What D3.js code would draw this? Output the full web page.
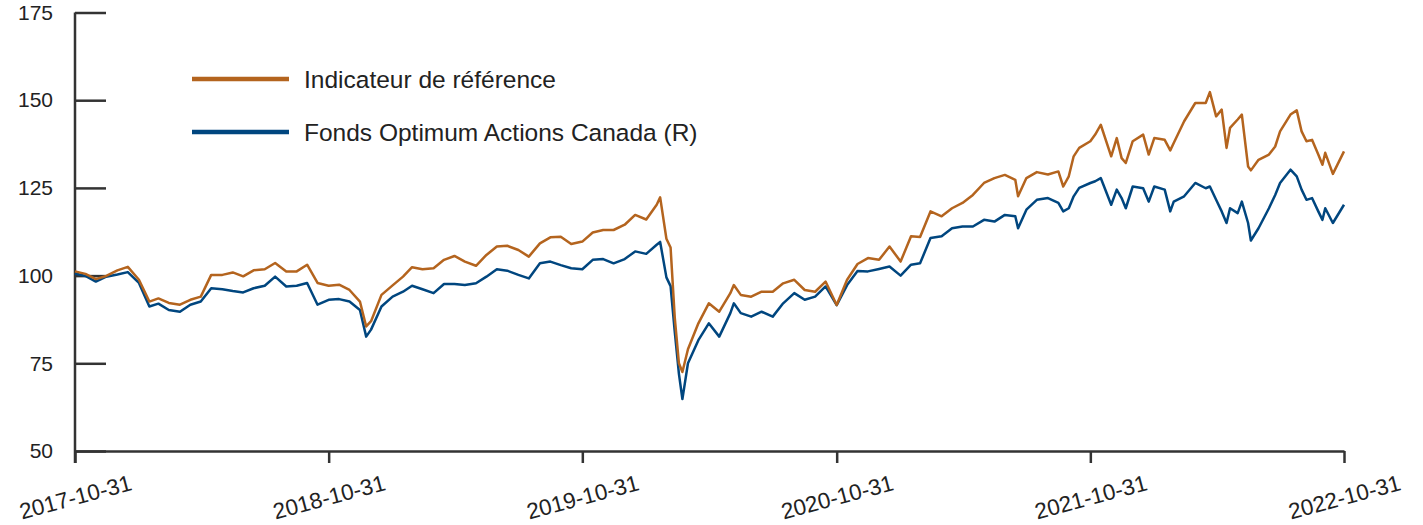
<!DOCTYPE html>
<html>
<head>
<meta charset="utf-8">
<script src="https://cdn.jsdelivr.net/npm/d3@7"></script>
<style>
  body { margin: 0; background: #fff; }
  svg { display: block; font-family: "Liberation Sans", Arial, sans-serif; }
  .axis path, .axis line { stroke: #333; stroke-width: 2.5; }
  .axis text { fill: #222; font-size: 21px; }
  .x-axis text { font-size: 22.5px; }
</style>
</head>
<body>
<div id="chart"></div>
<script>
'use strict';

// dates (semi-monthly, plus a few turning points)
var dates = [
  "2017-10-31","2017-11-15","2017-11-30","2017-12-15","2017-12-31",
  // 2018
  "2018-01-15","2018-01-31","2018-02-15","2018-02-28","2018-03-15","2018-03-31",
  "2018-04-15","2018-04-30","2018-05-15","2018-05-31","2018-06-15","2018-06-30",
  "2018-07-15","2018-07-31","2018-08-15","2018-08-31","2018-09-15","2018-09-30",
  "2018-10-15","2018-10-31","2018-11-15","2018-11-30","2018-12-15","2018-12-24","2018-12-31",
  // 2019
  "2019-01-15","2019-01-31","2019-02-15","2019-02-28","2019-03-15","2019-03-31",
  "2019-04-15","2019-04-30","2019-05-15","2019-05-31","2019-06-15","2019-06-30",
  "2019-07-15","2019-07-31","2019-08-15","2019-08-31","2019-09-15","2019-09-30",
  "2019-10-15","2019-10-31","2019-11-15","2019-11-30","2019-12-15","2019-12-31",
  // 2020
  "2020-01-15","2020-01-31","2020-02-15","2020-02-20","2020-02-29","2020-03-06",
  "2020-03-12","2020-03-18","2020-03-23","2020-03-31","2020-04-15","2020-04-30",
  "2020-05-15","2020-05-31","2020-06-05","2020-06-15","2020-06-30","2020-07-15","2020-07-31",
  "2020-08-15","2020-08-31","2020-09-15","2020-09-30","2020-10-15","2020-10-31",
  "2020-11-15","2020-11-30","2020-12-15","2020-12-31",
  // 2021
  "2021-01-15","2021-01-31","2021-02-15","2021-02-28","2021-03-15","2021-03-31",
  "2021-04-15","2021-04-30","2021-05-15","2021-05-31","2021-06-15","2021-06-30",
  "2021-07-15","2021-07-19","2021-07-31","2021-08-15","2021-08-31","2021-09-15",
  "2021-09-22","2021-09-30","2021-10-07","2021-10-15","2021-10-31","2021-11-07",
  "2021-11-15","2021-11-30","2021-12-08","2021-12-15","2021-12-21","2021-12-31",
  // 2022
  "2022-01-15","2022-01-23","2022-01-31","2022-02-15","2022-02-23","2022-02-28",
  "2022-03-15","2022-03-31","2022-04-15","2022-04-21","2022-04-30","2022-05-08",
  "2022-05-15","2022-05-20","2022-05-31","2022-06-06","2022-06-15","2022-06-19",
  "2022-06-30","2022-07-15","2022-07-24","2022-07-31","2022-08-15","2022-08-24",
  "2022-08-31","2022-09-07","2022-09-15","2022-09-24","2022-09-30","2022-10-04",
  "2022-10-15","2022-10-31"
];

// Indicateur de référence
var benchmark = [
  101.2,100.5,99.0,99.9,101.5,
  102.5,98.8,92.6,93.5,92.2,91.7,93.1,94.0,100.2,100.2,100.9,99.8,
  101.5,101.8,103.6,101.2,101.2,103.1,97.9,97.1,97.4,95.9,92.6,85.5,87.0,
  94.5,97.2,99.7,102.4,101.8,102.1,104.5,105.6,104.0,102.8,105.9,108.3,
  108.5,107.3,105.4,109.2,110.9,111.1,109.0,109.7,112.3,113.0,113.0,114.5,
  117.3,116.0,120.2,122.3,110.5,108.0,88.0,75.0,72.5,79.0,86.4,92.1,
  89.7,95.0,97.3,94.5,94.0,95.4,95.4,97.8,98.8,95.9,95.4,98.3,91.6,
  98.8,103.3,105.0,104.5,
  108.3,104.0,111.2,111.0,118.3,116.9,119.2,120.7,123.0,126.4,127.8,128.7,
  127.3,122.6,127.8,129.5,128.8,129.7,125.4,128.3,134.0,136.4,138.3,140.2,
  143.0,134.0,139.2,133.5,132.1,138.3,
  140.2,134.5,139.2,138.7,135.7,137.8,144.0,149.2,149.2,152.3,145.4,147.3,
  136.4,142.1,144.5,145.9,131.1,130.0,133.0,134.5,136.8,141.1,145.9,147.1,
  141.1,138.3,138.7,134.5,131.6,135.0,129.0,135.4
];

// Fonds Optimum Actions Canada (R)
var fund = [
  100.6,99.9,98.3,99.7,100.3,
  101.0,97.9,91.2,92.0,90.2,89.7,91.7,92.6,96.4,96.1,95.6,95.2,
  96.4,97.1,99.7,96.9,97.1,97.9,91.7,93.1,93.3,92.6,90.2,82.6,84.6,
  91.2,94.0,95.4,97.1,96.1,95.0,97.6,97.6,97.3,97.8,99.7,101.8,
  101.4,100.2,99.2,103.5,104.0,103.0,102.1,101.8,104.5,104.7,103.5,104.7,
  106.9,106.2,108.8,109.6,99.5,97.0,84.0,72.0,64.8,75.0,81.6,86.4,
  82.6,89.3,92.1,89.3,88.3,89.7,88.3,92.1,95.0,93.1,94.0,96.9,91.6,
  97.3,101.3,101.2,101.9,
  102.6,100.0,103.1,103.5,110.7,111.2,113.5,114.0,114.0,115.9,115.4,117.3,
  116.9,113.5,118.8,121.6,122.1,120.7,118.3,119.2,122.6,125.0,126.4,126.9,
  127.8,120.2,124.5,122.1,119.2,125.4,
  124.9,121.1,125.4,124.5,118.3,121.1,122.6,126.4,124.9,125.4,121.6,118.3,
  115.0,119.2,117.8,121.1,115.0,110.0,113.5,119.2,123.0,126.4,130.2,128.3,
  124.5,121.6,122.1,118.3,115.9,119.2,115.0,120.2
];

var xTicks = ["2017-10-31","2018-10-31","2019-10-31","2020-10-31","2021-10-31","2022-10-31"];
var yTicks = [50, 75, 100, 125, 150, 175];

var seriesNames = ["Indicateur de référence", "Fonds Optimum Actions Canada (R)"];
var seriesColors = ["#B4641E", "#00467F"];

var parseDate = d3.timeParse("%Y-%m-%d");
var fmtDate = d3.timeFormat("%Y-%m-%d");

var width = 1423, height = 525;
var margin = {top: 12.5, right: 79, bottom: 74, left: 75};
var w = width - margin.left - margin.right,
  h = height - margin.top - margin.bottom;

var svg = d3.select("#chart").append("svg")
  .attr("width", width)
  .attr("height", height);

var g = svg.append("g")
  .attr("transform", "translate(" + margin.left + "," + margin.top + ")");

var x = d3.scaleTime()
  .domain([parseDate(xTicks[0]), parseDate(xTicks[xTicks.length - 1])])
  .range([0, w]);
var y = d3.scaleLinear().domain([50, 175]).range([h, 0]);

var series = [benchmark, fund].map(function (vals, i) {
  return {
    name: seriesNames[i],
    color: seriesColors[i],
    values: vals.map(function (v, j) { return {date: parseDate(dates[j]), value: v}; })
  };
});

// axes
var yAxis = d3.axisLeft(y)
  .tickValues(yTicks)
  .tickSizeInner(-31)
  .tickSizeOuter(0)
  .tickPadding(22);

g.append("g")
  .attr("class", "axis y-axis")
  .call(yAxis)
  .call(function (sel) { sel.select(".domain").remove(); });

var xAxis = d3.axisBottom(x)
  .tickValues(xTicks.map(parseDate))
  .tickSizeInner(12)
  .tickSizeOuter(0)
  .tickFormat(fmtDate);

var gx = g.append("g")
  .attr("class", "axis x-axis")
  .attr("transform", "translate(0," + h + ")")
  .call(xAxis);

gx.selectAll("text")
  .attr("y", 0)
  .attr("dy", "0.35em")
  .attr("transform", "translate(0,46) rotate(-15)")
  .style("text-anchor", "middle");

// y-axis line running down to the first x tick
g.append("line")
  .attr("x1", 0).attr("x2", 0)
  .attr("y1", y(175)).attr("y2", h + 12)
  .attr("stroke", "#333")
  .attr("stroke-width", 2.5);

// lines
var line = d3.line()
  .x(function (d) { return x(d.date); })
  .y(function (d) { return y(d.value); });

g.selectAll(".series")
  .data(series.slice().reverse())
  .enter().append("path")
  .attr("class", "series")
  .attr("fill", "none")
  .attr("stroke", function (d) { return d.color; })
  .attr("stroke-width", 2.5)
  .attr("stroke-linejoin", "round")
  .attr("d", function (d) { return line(d.values); });

// legend
var legend = svg.append("g").attr("class", "legend");
var item = legend.selectAll("g")
  .data(series)
  .enter().append("g")
  .attr("transform", function (d, i) { return "translate(192," + (79 + i * 53) + ")"; });

item.append("line")
  .attr("x1", 0).attr("x2", 97)
  .attr("stroke", function (d) { return d.color; })
  .attr("stroke-width", 4.5);

item.append("text")
  .attr("x", 112)
  .attr("dy", "0.35em")
  .style("font-size", "24.5px")
  .style("fill", "#222")
  .text(function (d) { return d.name; });
</script>
</body>
</html>
